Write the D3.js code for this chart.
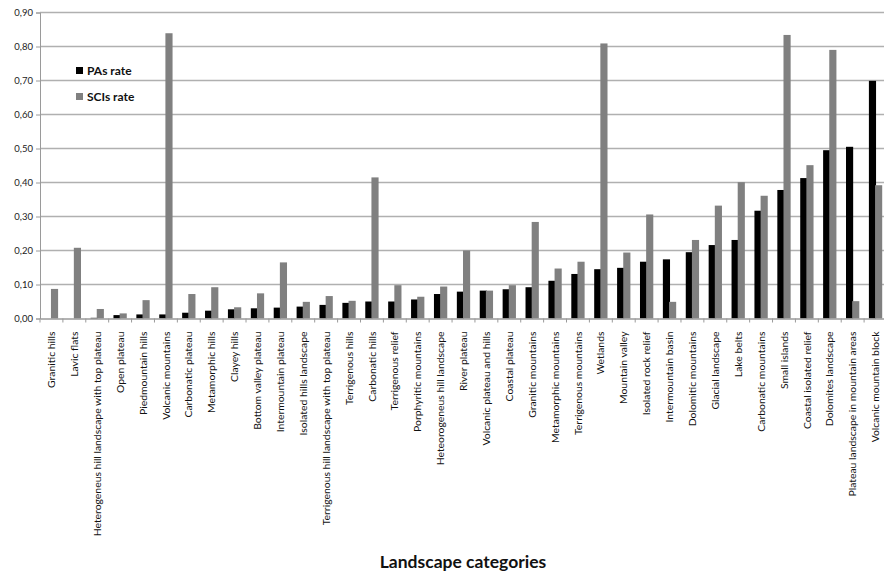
<!DOCTYPE html>
<html>
<head>
<meta charset="utf-8">
<script src="https://cdn.jsdelivr.net/npm/d3@7"></script>
<style>
  html, body { margin: 0; padding: 0; background: #fff; }
  svg { display: block; }
  text { font-family: Lato, "Open Sans", sans-serif; }
</style>
</head>
<body>
<svg id="chart" width="884" height="573"></svg>
<script>
// Landscape categories, ordered by PAs rate
const categories = [
  "Granitic hills", "Lavic flats", "Heterogeneus hill landscape with top plateau",
  "Open plateau", "Piedmountain hills", "Volcanic mountains", "Carbonatic plateau",
  "Metamorphic hills", "Clayey hills", "Bottom valley plateau", "Intermountain plateau",
  "Isolated hills landscape", "Terrigenous hill landscape with top plateau",
  "Terrigenous hills", "Carbonatic hills", "Terrigenous relief", "Porphyritic mountains",
  "Heteorogeneus hill landscape", "River plateau", "Volcanic plateau and hills",
  "Coastal plateau", "Granitic mountains", "Metamorphic mountains", "Terrigenous mountains",
  "Wetlands", "Mountain valley", "Isolated rock relief", "Intermountain basin",
  "Dolomitic mountains", "Glacial landscape", "Lake belts", "Carbonatic mountains",
  "Small islands", "Coastal isolated relief", "Dolomites landscape",
  "Plateau landscape in mountain areas", "Volcanic mountain block"
];

const pasRate = [
  0.000, 0.000, 0.002, 0.010, 0.012, 0.012, 0.017, 0.023, 0.027, 0.030, 0.032,
  0.035, 0.040, 0.046, 0.050, 0.050, 0.056, 0.072, 0.079, 0.082, 0.086, 0.092,
  0.111, 0.131, 0.145, 0.149, 0.167, 0.174, 0.195, 0.216, 0.231, 0.317, 0.378,
  0.413, 0.495, 0.505, 0.699
];

const scisRate = [
  0.087, 0.208, 0.028, 0.015, 0.054, 0.839, 0.072, 0.092, 0.033, 0.074, 0.165,
  0.049, 0.066, 0.052, 0.415, 0.098, 0.064, 0.094, 0.200, 0.082, 0.098, 0.284,
  0.147, 0.167, 0.809, 0.194, 0.306, 0.049, 0.231, 0.332, 0.401, 0.361, 0.834,
  0.451, 0.790, 0.051, 0.392
];

const seriesNames = ["PAs rate", "SCIs rate"];
const seriesColors = ["#000000", "#808080"];
const yTicks = [0, 0.1, 0.2, 0.3, 0.4, 0.5, 0.6, 0.7, 0.8, 0.9];
const xTitle = "Landscape categories";

const svg = d3.select("#chart");
const margin = { left: 40, top: 12.5, right: -3, bottom: 254.5 };
const W = 884, H = 573;
const plotW = W - margin.left - margin.right;
const plotH = H - margin.top - margin.bottom;

const x = d3.scaleBand().domain(categories).range([margin.left, margin.left + plotW])
  .paddingInner(0).paddingOuter(0);
const inner = d3.scaleBand().domain([0, 1]).range([0, x.bandwidth()])
  .paddingInner(0).paddingOuter(0.72);
const y = d3.scaleLinear().domain([0, 0.9]).range([margin.top + plotH, margin.top]);

const fmt = v => d3.format(".2f")(v).replace(".", ",");

// horizontal gridlines
svg.append("g").selectAll("line").data(yTicks.filter(d => d > 0)).join("line")
  .attr("x1", margin.left).attr("x2", margin.left + plotW)
  .attr("y1", d => y(d)).attr("y2", d => y(d))
  .attr("stroke", "#b0b0b0").attr("stroke-width", 1.3);

// y axis
const yAxis = svg.append("g").attr("transform", `translate(${margin.left},0)`)
  .call(d3.axisLeft(y).tickValues(yTicks).tickFormat(fmt).tickSize(4));
yAxis.select(".domain").attr("stroke", "#9a9a9a");
yAxis.selectAll(".tick line").attr("stroke", "#9a9a9a");
yAxis.selectAll(".tick text").attr("font-size", 9.5).attr("fill", "#222")
  .attr("font-family", "Lato, sans-serif").attr("x", -7);

// bars
const series = [pasRate, scisRate];
series.forEach((vals, si) => {
  svg.append("g").selectAll("rect").data(categories).join("rect")
    .attr("x", c => x(c) + inner(si) - (si === 0 ? 0 : 0.5))
    .attr("width", inner.bandwidth() + 0.5)
    .attr("y", (c, i) => y(vals[i]))
    .attr("height", (c, i) => y(0) - y(vals[i]))
    .attr("fill", seriesColors[si]);
});

// x axis
const xAxis = svg.append("g").attr("transform", `translate(0,${y(0)})`)
  .call(d3.axisBottom(x).tickSize(0).tickSizeOuter(0));
xAxis.select(".domain").attr("stroke", "#9a9a9a").attr("stroke-width", 1.3);
xAxis.selectAll(".tick text")
  .attr("font-size", 10.4).attr("fill", "#111")
  .attr("font-family", "Lato, sans-serif")
  .attr("transform", "rotate(-90)")
  .attr("text-anchor", "end")
  .attr("x", -13).attr("y", 0).attr("dy", "0.35em");

// small separators between groups
svg.append("g").selectAll("line").data(categories).join("line")
  .attr("x1", c => x(c)).attr("x2", c => x(c))
  .attr("y1", y(0)).attr("y2", y(0) + 4)
  .attr("stroke", "#9a9a9a");

// legend
const legend = svg.append("g");
seriesNames.forEach((name, i) => {
  const ly = 71 + i * 26;
  legend.append("rect").attr("x", 76).attr("y", ly - 4).attr("width", 7).attr("height", 7)
    .attr("fill", seriesColors[i]);
  legend.append("text").attr("x", 87).attr("y", ly).attr("dy", "0.35em")
    .attr("font-size", 12).attr("font-weight", "bold").attr("fill", "#111").text(name);
});

// axis title
svg.append("text").attr("x", 463).attr("y", 568).attr("text-anchor", "middle")
  .attr("font-size", 17.5).attr("font-weight", "bold").attr("fill", "#111").text(xTitle);
</script>
</body>
</html>
